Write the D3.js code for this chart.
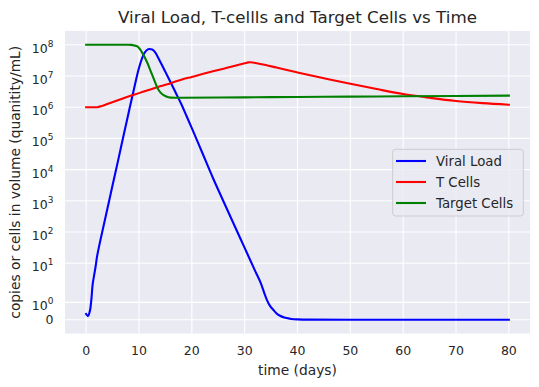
<!DOCTYPE html>
<html>
<head>
<meta charset="utf-8">
<script src="https://cdn.jsdelivr.net/npm/d3@7"></script>
<style>
  body { margin: 0; background: #fff; }
  text { font-family: "DejaVu Sans", sans-serif; fill: #262626; }
</style>
</head>
<body>
<svg id="chart" width="539" height="387"></svg>
<script>
// ------ data
var viralT = [0, 0.2, 0.4, 0.6, 0.8, 1.0, 1.2, 1.5, 1.8, 2, 2.5, 3, 4, 5, 6, 7, 8, 9, 10, 11, 11.5, 12, 12.5, 13, 14, 15, 16, 17, 18, 19, 20, 22, 24, 26, 28, 30, 31, 32, 33.2, 33.7, 34.2, 34.8, 35.4, 36, 36.7, 37.5, 38.6, 40, 42, 50, 60, 70, 80];
var viralLoad = [0.33, 0.26, 0.22, 0.38, 0.65, 1.2, 1.95, 4.0, 8, 14, 38, 93, 540, 3150, 1.8e4, 1.07e5, 6.2e5, 3.5e6, 1.8e7, 5.3e7, 6.8e7, 7.3e7, 7.1e7, 5.9e7, 2.9e7, 1.35e7, 6.2e6, 2.8e6, 1.26e6, 5.2e5, 2.14e5, 3.4e4, 5400, 955, 171, 31, 13.2, 5.6, 2.0, 1.55, 1.15, 0.8, 0.58, 0.38, 0.23, 0.13, 0.06, 0.02, 0.005, 0, 0, 0, 0];

var tCellT = [0, 2.1, 3, 4, 6, 8, 10, 12, 14, 16, 18, 20, 22, 24, 26, 28, 30, 30.7, 31, 31.5, 32, 34, 36, 38, 40, 45, 50, 55, 60, 65, 70, 75, 80];
var tCells = [1e6, 1e6, 1.096e6, 1.259e6, 1.66e6, 2.19e6, 2.82e6, 3.63e6, 4.68e6, 5.89e6, 7.59e6, 9.33e6, 1.148e7, 1.406e7, 1.714e7, 2.084e7, 2.541e7, 2.72e7, 2.75e7, 2.70e7, 2.60e7, 2.24e7, 1.86e7, 1.55e7, 1.30e7, 8.5e6, 5.6e6, 3.8e6, 2.63e6, 2.0e6, 1.58e6, 1.35e6, 1.2e6];

var targetT = [0, 8, 8.5, 9.1, 9.7, 10.65, 11.6, 12.23, 12.86, 13.49, 14.12, 15.07, 16, 18, 30, 40, 50, 60, 70, 80];
var targetCells = [1e8, 1e8, 9.9e7, 9.5e7, 8.8e7, 5.4e7, 2.6e7, 1.4e7, 7.6e6, 4.15e6, 2.87e6, 2.24e6, 2.03e6, 2.0e6, 2.066e6, 2.12e6, 2.175e6, 2.23e6, 2.285e6, 2.34e6];

var seriesNames = ["Viral Load", "T Cells", "Target Cells"];
var seriesColors = ["#0000ff", "#ff0000", "#008000"];
var xTicks = [0, 10, 20, 30, 40, 50, 60, 70, 80];
var yTickPowers = [0, 1, 2, 3, 4, 5, 6, 7, 8];

// ------ layout
var plot = {left: 65, right: 530, top: 31, bottom: 333.5};

// ------ symlog transform (linthresh 2, linscale 1, base 10)
var linthresh = 2, linscaleAdj = 1 / (1 - 1 / 10);
function symlog(v) {
	var a = Math.abs(v);
	if (a <= linthresh) return v * linscaleAdj;
	return Math.sign(v) * linthresh * (linscaleAdj + Math.log10(a / linthresh));
}

var xScale = d3.scaleLinear().domain([-4, 84]).range([plot.left, plot.right]);
var yTop = symlog(1e8), yPad = yTop * 0.05;
var yScale = d3.scaleLinear().domain([-yPad, yTop + yPad]).range([plot.bottom, plot.top]);
var yMap = function(v) { return yScale(symlog(v)); };

var svg = d3.select("#chart");

svg.append("rect")
	.attr("x", plot.left).attr("y", plot.top)
	.attr("width", plot.right - plot.left).attr("height", plot.bottom - plot.top)
	.attr("fill", "#eaeaf2");

// grid
var yTickVals = [0].concat(yTickPowers.map(function(p) { return Math.pow(10, p); }));
svg.append("g").selectAll("line").data(xTicks).enter().append("line")
	.attr("x1", function(d) { return xScale(d); }).attr("x2", function(d) { return xScale(d); })
	.attr("y1", plot.top).attr("y2", plot.bottom)
	.attr("stroke", "#fff").attr("stroke-width", 1.1);
svg.append("g").selectAll("line").data(yTickVals).enter().append("line")
	.attr("y1", yMap).attr("y2", yMap)
	.attr("x1", plot.left).attr("x2", plot.right)
	.attr("stroke", "#fff").attr("stroke-width", 1.1);

// x tick labels
svg.append("g").selectAll("text").data(xTicks).enter().append("text")
	.attr("x", function(d) { return xScale(d); })
	.attr("y", 355)
	.attr("text-anchor", "middle")
	.style("font-size", "12.5px")
	.text(function(d) { return d; });

// y tick labels
var yLab = svg.append("g");
yLab.append("text")
	.attr("x", 53.5).attr("y", yMap(0) + 4.6)
	.attr("text-anchor", "end")
	.style("font-size", "12.5px")
	.text("0");
yTickPowers.forEach(function(p) {
	var t = yLab.append("text")
		.attr("x", 53.5).attr("y", yMap(Math.pow(10, p)) + 8)
		.attr("text-anchor", "end")
		.style("font-size", "12.5px");
	t.append("tspan").text("10");
	t.append("tspan").attr("dy", -6).style("font-size", "9px").text(p);
});

// axis labels and title
svg.append("text")
	.attr("x", (plot.left + plot.right) / 2).attr("y", 374.5)
	.attr("text-anchor", "middle").style("font-size", "13.8px")
	.text("time (days)");
svg.append("text")
	.attr("transform", "translate(19.5," + (plot.top + plot.bottom) / 2 + ") rotate(-90)")
	.attr("text-anchor", "middle").style("font-size", "13.8px")
	.text("copies or cells in volume (quanitity/mL)");
svg.append("text")
	.attr("x", (plot.left + plot.right) / 2).attr("y", 23)
	.attr("text-anchor", "middle").style("font-size", "16.7px")
	.text("Viral Load, T-cellls and Target Cells vs Time");

// lines
var lineGen = d3.line()
	.x(function(d) { return xScale(d[0]); })
	.y(function(d) { return yMap(d[1]); })
	.curve(d3.curveMonotoneX);

var series = [
	d3.zip(viralT, viralLoad),
	d3.zip(tCellT, tCells),
	d3.zip(targetT, targetCells)
];
svg.append("g").selectAll("path").data(series).enter().append("path")
	.attr("d", lineGen)
	.attr("fill", "none")
	.attr("stroke", function(d, i) { return seriesColors[i]; })
	.attr("stroke-width", 2.1)
	.attr("stroke-linejoin", "round")
	.attr("stroke-linecap", "square");

// legend
var legend = svg.append("g");
legend.append("rect")
	.attr("x", 392.7).attr("y", 149.3).attr("width", 130.6).attr("height", 66.7)
	.attr("rx", 3)
	.attr("fill", "#eaeaf2").attr("fill-opacity", 0.8)
	.attr("stroke", "#cccccc").attr("stroke-width", 1);
var rows = legend.selectAll("g.row").data(seriesNames).enter().append("g")
	.attr("class", "row")
	.attr("transform", function(d, i) { return "translate(0," + (161 + i * 21) + ")"; });
rows.append("line")
	.attr("x1", 396).attr("x2", 426).attr("y1", 0).attr("y2", 0)
	.attr("stroke", function(d, i) { return seriesColors[i]; })
	.attr("stroke-width", 2.1);
rows.append("text")
	.attr("x", 436).attr("y", 4.7)
	.style("font-size", "13.3px")
	.text(function(d) { return d; });
</script>
</body>
</html>
